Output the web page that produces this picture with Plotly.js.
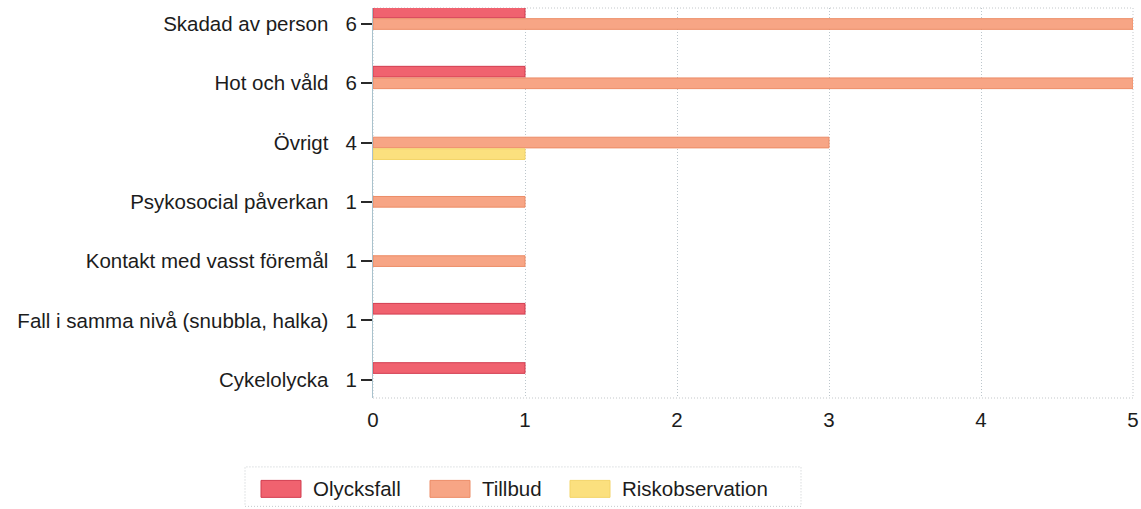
<!DOCTYPE html>
<html>
<head>
<meta charset="utf-8">
<script src="https://cdn.plot.ly/plotly-3.0.1.min.js"></script>
<style>
  html, body { margin: 0; padding: 0; background: #ffffff; }
  #chart { width: 1141px; height: 509px; }
</style>
</head>
<body>
<div id="chart"></div>
<script>
// Categories, top to bottom as in the picture
const categories = [
  "Skadad av person",
  "Hot och våld",
  "Övrigt",
  "Psykosocial påverkan",
  "Kontakt med vasst föremål",
  "Fall i samma nivå (snubbla, halka)",
  "Cykelolycka"
];
const seriesNames = ["Olycksfall", "Tillbud", "Riskobservation"];
const olycksfall      = [1, 1, 0, 0, 0, 1, 1];
const tillbud         = [5, 5, 3, 1, 1, 0, 0];
const riskobservation = [0, 0, 1, 0, 0, 0, 0];
const xTicks = [0, 1, 2, 3, 4, 5];

const seriesValues = [olycksfall, tillbud, riskobservation];
const fillColors = ["#f0626f", "#f7a585", "#fbe07e"];
const lineColors = ["#d23c4f", "#ec8c66", "#f3d468"];

const totals = categories.map((c, i) => seriesValues.reduce((s, arr) => s + arr[i], 0));
const NB = "\u00a0";
const tickLabels = categories.map((c, i) => c + NB + NB + NB + totals[i]);

const traces = seriesValues.map((vals, k) => ({
  type: "bar",
  orientation: "h",
  name: seriesNames[k],
  y: categories,
  x: vals.map(v => (v === 0 ? null : v)),
  marker: { color: fillColors[k], line: { color: lineColors[k], width: 1 } },
  showlegend: false,
  hoverinfo: "x+name"
}));

// layout geometry (pixels)
const W = 1141, H = 509;
const mL = 373, mR = 8, mT = 8, mB = 110.5;
const pw = W - mL - mR, ph = H - mT - mB;
const px2x = p => (p - mL) / pw;
const px2y = p => (H - mB - p) / ph;

const font = "Liberation Sans, Arial, sans-serif";
const textColor = "#1c1c1c";

const shapes = [
  // dotted plot frame
  { type: "rect", xref: "paper", yref: "paper", x0: 0, x1: 1, y0: 0, y1: 1,
    line: { color: "#c3c7ca", width: 1, dash: "1px,2px" }, layer: "below" },
  // legend frame
  { type: "rect", xref: "paper", yref: "paper",
    x0: px2x(245), x1: px2x(801), y0: px2y(507), y1: px2y(467.5),
    line: { color: "#c6cacd", width: 1, dash: "1px,2px" } }
];
const annotations = [];
const legendSwatchX = [261, 430, 570];
seriesNames.forEach((n, k) => {
  const sx = legendSwatchX[k];
  shapes.push({ type: "rect", xref: "paper", yref: "paper",
    x0: px2x(sx), x1: px2x(sx + 40), y0: px2y(498), y1: px2y(481),
    fillcolor: fillColors[k], line: { color: lineColors[k], width: 1 } });
  annotations.push({ xref: "paper", yref: "paper", x: px2x(sx + 50), y: px2y(489.5),
    xanchor: "left", yanchor: "middle", showarrow: false, text: n,
    font: { family: font, size: 20.5, color: textColor } });
});

const layout = {
  width: W, height: H,
  margin: { l: mL, r: mR, t: mT, b: mB, pad: 0 },
  paper_bgcolor: "#ffffff",
  plot_bgcolor: "#ffffff",
  barmode: "group",
  bargap: 0.413,
  bargroupgap: 0.08,
  showlegend: false,
  font: { family: font, size: 20.5, color: textColor },
  xaxis: {
    range: [0, 5],
    tickvals: xTicks,
    ticktext: xTicks.map(String),
    showgrid: true,
    gridcolor: "#bcc6cc",
    griddash: "1px,2px",
    gridwidth: 1,
    zeroline: false,
    showline: false,
    ticks: "",
    ticklabelstandoff: 7,
    tickfont: { family: font, size: 20.5, color: textColor },
    fixedrange: true
  },
  yaxis: {
    type: "category",
    categoryorder: "array",
    categoryarray: categories,
    range: [6.31, -0.27],
    autorange: false,
    tickvals: categories,
    ticktext: tickLabels,
    showgrid: false,
    zeroline: false,
    showline: true,
    linecolor: "#a9c2cd",
    linewidth: 1,
    ticks: "outside",
    ticklen: 11,
    tickwidth: 2,
    tickcolor: "#2a2a2a",
    tickfont: { family: font, size: 20.5, color: textColor },
    fixedrange: true
  },
  shapes: shapes,
  annotations: annotations
};

Plotly.newPlot("chart", traces, layout, { displayModeBar: false, staticPlot: true });
</script>
</body>
</html>
